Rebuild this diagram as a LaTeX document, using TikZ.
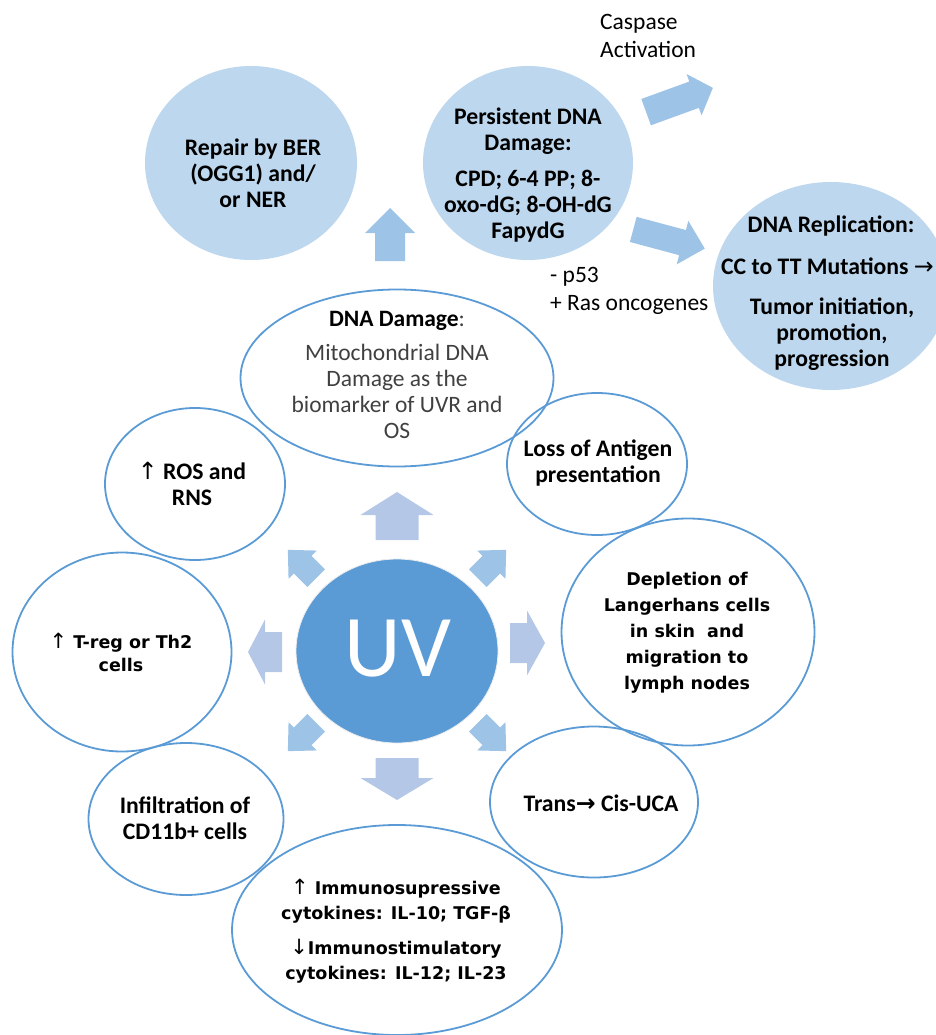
\documentclass[tikz,border=0pt]{standalone}
\usepackage{fontspec}
\setmainfont{Carlito}
\newfontfamily\tahfont{DejaVu Sans}
\newfontfamily\symfont{DejaVu Sans}
\usetikzlibrary{shapes.geometric}
\definecolor{lightfill}{HTML}{BDD7EE}
\definecolor{outl}{HTML}{5B9BD5}
\definecolor{uvfill}{HTML}{5B9BD5}
\definecolor{arrA}{HTML}{9DC3E6}
\definecolor{arrB}{HTML}{B4C7E7}
\definecolor{graytext}{HTML}{404040}
% block arrow: x, y, angle, length, shaft half width, head half width, head length, colour
\newcommand\blockarrow[8]{%
  \begin{scope}[shift={(#1,#2)},rotate=#3]
    \fill[#8] ({-#4/2},{-#5}) -- ({#4/2-#7},{-#5}) -- ({#4/2-#7},{-#6}) -- ({#4/2},0)
      -- ({#4/2-#7},{#6}) -- ({#4/2-#7},{#5}) -- ({-#4/2},{#5}) -- cycle;
  \end{scope}}
\begin{document}
\begin{tikzpicture}[x=1pt,y=-1pt,
  lightell/.style={ellipse, fill=lightfill, inner sep=0pt},
  whiteell/.style={ellipse, draw=outl, line width=1.8pt, inner sep=0pt},
  calb/.style={font=\fontsize{23.7}{26}\selectfont\bfseries, align=center, inner sep=0pt},
  calr/.style={font=\fontsize{23.5}{28}\selectfont, align=left, inner sep=0pt},
  calreg/.style={font=\fontsize{23.5}{26}\selectfont, align=center, inner sep=0pt},
  tahb/.style={font=\tahfont\fontsize{17.5}{26}\selectfont\bfseries, align=center, inner sep=0pt},
]
\useasboundingbox (0,0) rectangle (935,1035);

% ---- top light ellipses
\node[lightell, minimum width=212pt, minimum height=194pt] (repair) at (251,163) {};
\node[lightell, minimum width=210pt, minimum height=194pt] (persist) at (528,163) {};
\node[lightell, minimum width=236pt, minimum height=208pt] (repl) at (831,286) {};

% ---- top arrows
\blockarrow{390}{234.5}{90}{53}{15}{25}{25}{arrA}
\blockarrow{679.5}{100}{20}{71}{14}{22}{20}{arrA}
\blockarrow{669}{239}{-15}{74}{13}{22.5}{23}{arrA}

% ---- UV arrows
\blockarrow{397}{516}{90}{48}{21.5}{36.5}{23}{arrB}
\blockarrow{397}{779}{-90}{42}{21.5}{36.5}{22}{arrB}
\blockarrow{527.5}{643}{0}{35}{20}{32.5}{18}{arrB}
\blockarrow{265}{652}{180}{34}{20}{32.5}{17}{arrB}
\blockarrow{492}{564}{45}{40}{12.5}{20}{21}{arrA}
\blockarrow{492}{737}{-45}{40}{12.5}{20}{21}{arrA}
\blockarrow{302}{737}{-135}{40}{12.5}{20}{21}{arrA}
\blockarrow{302}{564}{135}{40}{12.5}{20}{21}{arrA}

% ---- outlined ellipses
\node[whiteell, minimum width=313pt, minimum height=177pt] (dnad) at (397,378) {};
\node[whiteell, minimum width=180pt, minimum height=142pt] (loss) at (597,464) {};
\node[whiteell, minimum width=180pt, minimum height=152pt] (ros) at (195,484) {};
\node[whiteell, minimum width=219pt, minimum height=199pt] (treg) at (122,652) {};
\node[whiteell, minimum width=253pt, minimum height=227pt] (depl) at (688,632) {};
\node[whiteell, minimum width=195pt, minimum height=152pt] (infil) at (186,819) {};
\node[whiteell, minimum width=208pt, minimum height=151pt] (trans) at (594,802) {};
\node[whiteell, minimum width=330pt, minimum height=210pt] (immuno) at (397,930) {};

% ---- UV
\node[ellipse, fill=uvfill, draw=white!85!gray, line width=0.8pt, minimum width=202pt, minimum height=184pt, inner sep=0pt] (uv) at (397,651) {};
\node[font=\fontsize{88}{88}\selectfont, text=white, inner sep=0pt] (uvT) at (398,649) {UV};

% ---- texts
\node[calb] (repairT) at (253,173) {Repair by BER\\(OGG1) and/\\or NER};
\node[calb] (persistT) at (528,175) {Persistent DNA\\Damage:\\[10pt]CPD; 6-4 PP; 8-\\oxo-dG; 8-OH-dG\\FapydG};
\node[calb] (replT1) at (831,226) {DNA Replication:};
\node[calb, anchor=west] (replT2) at (721,266) {CC to TT Mutations {\symfont\mdseries →}};
\node[calb] (replT3) at (832,334) {Tumor initiation,\\promotion,\\progression};
\node[calr, anchor=west] (casp) at (600,36) {Caspase\\Activation};
\node[calr, anchor=west] (p53) at (550,291) {- p53\\+ Ras oncogenes};
\node[calreg, text=graytext] (dnadT) at (397,375) {{\bfseries\color{black}DNA Damage}:\\[8pt]Mitochondrial DNA\\Damage as the\\biomarker of UVR and\\OS};
\node[calb] (lossT) at (598,463) {Loss of Antigen\\presentation};
\node[calb] (rosT) at (192,484) {{\symfont\mdseries ↑} ROS and\\RNS};
\node[tahb] (tregT) at (121,652) {{\mdseries\fontsize{21}{26}\selectfont ↑} T-reg or Th2\\[-3pt]cells};
\node[tahb] (deplT) at (687,633) {Depletion of\\Langerhans cells\\in skin\ \ and\\migration to\\lymph nodes};
\node[calb] (infilT) at (185,818) {Infiltration of\\CD11b+ cells};
\node[calb] (transT) at (601,803) {Trans{\symfont →} Cis-UCA};
\node[tahb] (immunoT) at (396,931) {{\mdseries\fontsize{21}{26}\selectfont ↑} Immunosupressive\\[-1pt]cytokines: IL-10; TGF-β\\[9pt]{\mdseries\fontsize{21}{26}\selectfont ↓}Immunostimulatory\\[-1pt]cytokines: IL-12; IL-23};
\end{tikzpicture}
\end{document}
